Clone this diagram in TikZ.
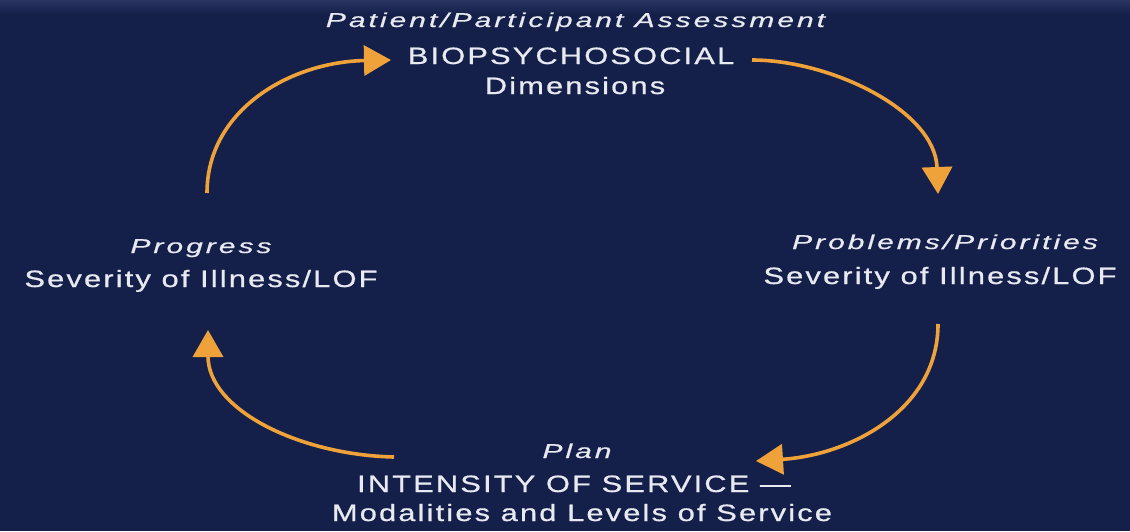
\documentclass[tikz,border=0pt]{standalone}
\usepackage{fontspec}
\setmainfont{Liberation Sans}
\newfontfamily\reglab{Liberation Sans}[LetterSpace=7,FakeBold=0.6]
\newfontfamily\itlab{Liberation Sans}[LetterSpace=10,FakeBold=0.5]
\usetikzlibrary{arrows.meta}
\definecolor{bgnavy}{HTML}{141F4A}
\definecolor{bgtop}{HTML}{2A3562}
\definecolor{arrorange}{HTML}{F0A23A}
\definecolor{labwhite}{HTML}{E8EAF2}
\newcommand{\regtxt}[1]{\scalebox{1.3}[1]{#1}}
\newcommand{\ittxt}[1]{\scalebox{1.5}[1]{#1}}
\tikzset{
  reg/.style={anchor=base,inner sep=0pt,text=labwhite,font=\reglab\fontsize{23.7}{28}\selectfont},
  ital/.style={anchor=base,inner sep=0pt,text=labwhite,font=\itlab\itshape\fontsize{20}{24}\selectfont},
  cyc/.style={draw=arrorange,line width=3.6pt,-{Triangle[length=27pt,width=30pt]}}
}
\begin{document}
\begin{tikzpicture}[x=1pt,y=-1pt]
\fill[bgnavy] (0,0) rectangle (1130,531);
\shade[top color=bgtop,bottom color=bgnavy] (0,0) rectangle (1130,14);
\useasboundingbox (0,0) rectangle (1130,531);

% top
\node[ital] (assess) at (575.5,27) {\ittxt{Patient/Participant Assessment}};
\node[reg] (bio) at (571,64) {\regtxt{BIOPSYCHOSOCIAL}};
\node[reg] (dim) at (575,94) {\regtxt{Dimensions}};
% left
\node[ital] (prog) at (201,253) {\ittxt{Progress}};
\node[reg] (sevl) at (201,287) {\regtxt{Severity of Illness/LOF}};
% right
\node[ital] (prob) at (945,249) {\ittxt{Problems/Priorities}};
\node[reg] (sevr) at (940,284) {\regtxt{Severity of Illness/LOF}};
% bottom
\node[ital] (plan) at (577,458) {\ittxt{Plan}};
\node[reg] (intens) at (574,492) {\regtxt{INTENSITY OF SERVICE —}};
\node[reg] (modal) at (582,521) {\regtxt{Modalities and Levels of Service}};

% arrow end points
\coordinate (a1s) at (207,193);
\coordinate (a1e) at (391,60);
\coordinate (a2s) at (752,60);
\coordinate (a2e) at (938,194);
\coordinate (a3s) at (938,324);
\coordinate (a3e) at (756,461);
\coordinate (a4s) at (394,457);
\coordinate (a4e) at (208,330);

\draw[cyc] (a1s) .. controls (207,110) and (290,62) .. (a1e);
\draw[cyc] (a2s) .. controls (830,60) and (935,110) .. (a2e);
\draw[cyc] (a3s) .. controls (938,410) and (850,455) .. (a3e);
\draw[cyc] (a4s) .. controls (300,455) and (208,410) .. (a4e);
\end{tikzpicture}
\end{document}
